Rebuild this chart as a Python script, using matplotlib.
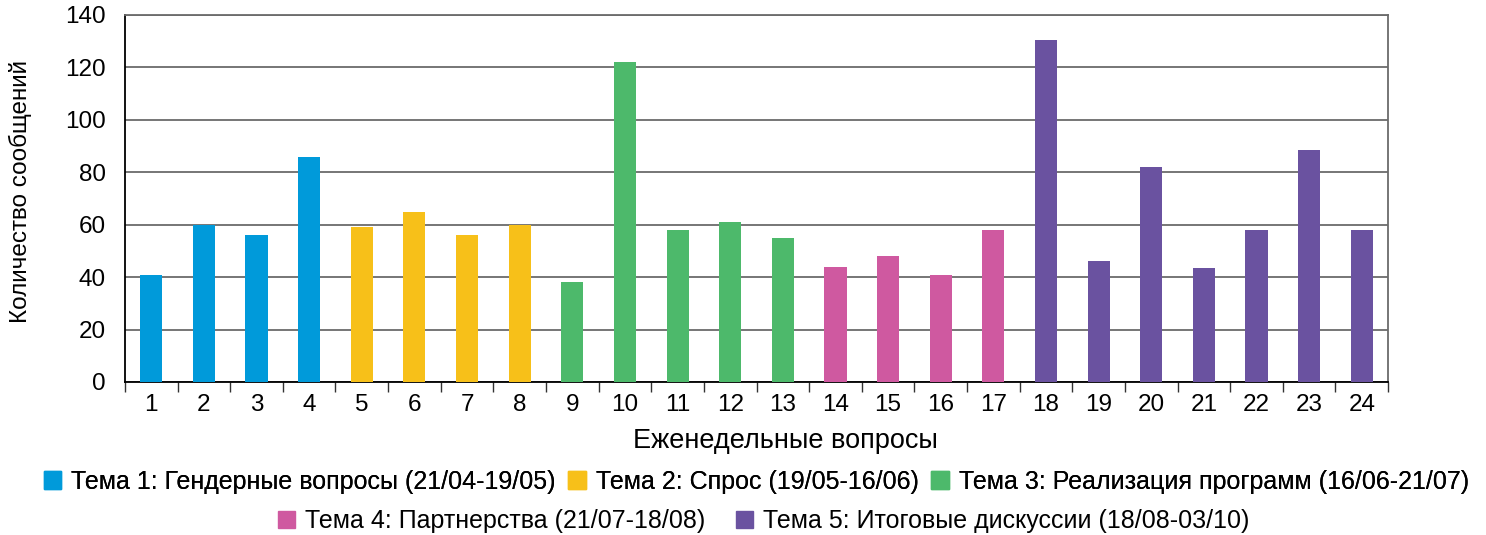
import matplotlib.pyplot as plt
import numpy as np
from matplotlib.patches import Patch

plt.rcParams['font.family'] = ['Liberation Sans', 'DejaVu Sans']

# weekly questions and message counts
weeks = list(range(1, 25))
counts = [41, 60, 56, 86, 59, 65, 56, 60, 38, 122, 58, 61, 55, 44,
          48, 41, 58, 130.5, 46, 82, 43.5, 58, 88.5, 58]
# topic index of each week
topic_of_week = [0]*4 + [1]*4 + [2]*5 + [3]*4 + [4]*7

topic_names = ["Тема 1: Гендерные вопросы (21/04-19/05)",
               "Тема 2: Спрос (19/05-16/06)",
               "Тема 3: Реализация программ (16/06-21/07)",
               "Тема 4: Партнерства (21/07-18/08)",
               "Тема 5: Итоговые дискуссии (18/08-03/10)"]
topic_colors = ["#009ADA", "#F7C019", "#4DB96B", "#CF59A0", "#6A52A0"]

fig = plt.figure(figsize=(14.86, 5.35), dpi=100)
ax = fig.add_axes([0.0841, 0.286, 0.8500, 0.686])

x = np.arange(len(weeks))
bar_colors = [topic_colors[t] for t in topic_of_week]
ax.bar(x, counts, width=0.42, color=bar_colors, zorder=3)

ax.set_xlim(-0.5, len(weeks) - 0.5)
ax.set_ylim(0, 140)
ax.set_yticks(range(0, 141, 20))
ax.tick_params(axis='y', length=0, labelsize=17.5, pad=14)
ax.set_xticks(x)
ax.set_xticklabels([str(w) for w in weeks], fontsize=17.5)
ax.set_xticks(np.arange(-0.5, len(weeks), 1), minor=True)
ax.tick_params(axis='x', which='major', length=0, pad=9)
ax.tick_params(axis='x', which='minor', length=7, width=1, color='#333333')

ax.grid(axis='y', color='#6b6b6b', linewidth=1.3, zorder=0)
for s in ['left', 'bottom']:
    ax.spines[s].set_color('black')
    ax.spines[s].set_linewidth(1.3)
for s in ['top', 'right']:
    ax.spines[s].set_color('#6b6b6b')
    ax.spines[s].set_linewidth(1.3)

ax.set_xlabel("Еженедельные вопросы", fontsize=19.5)
ax.xaxis.set_label_coords(0.523, -0.125)
ax.set_ylabel("Количество сообщений", fontsize=17.5)
ax.yaxis.set_label_coords(-0.074, 0.52)

handles = [Patch(color=c) for c in topic_colors]
leg1 = fig.legend(handles[:3], topic_names[:3], loc='center', ncol=3,
                  bbox_to_anchor=(0.509, 0.1), frameon=False, fontsize=18,
                  handlelength=0.7, handleheight=0.7, handletextpad=0.4,
                  columnspacing=0.5)
fig.add_artist(leg1)
fig.legend(handles[3:], topic_names[3:], loc='center', ncol=2,
           bbox_to_anchor=(0.514, 0.026), frameon=False, fontsize=18,
           handlelength=0.7, handleheight=0.7, handletextpad=0.4,
           columnspacing=1.2)

fig.savefig("out.png", dpi=100)
